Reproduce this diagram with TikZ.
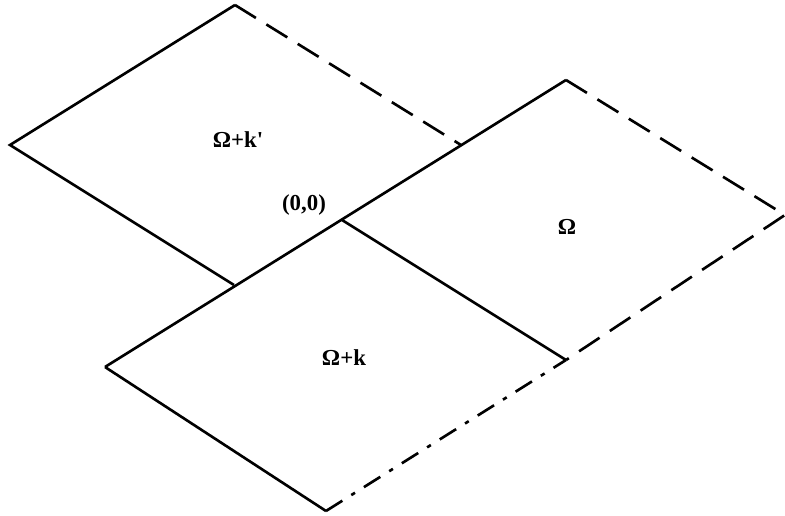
\documentclass[tikz,border=0pt]{standalone}
\usepackage{fontspec}
\setmainfont{Liberation Serif}
\usepackage{tikz}

\begin{document}
\begin{tikzpicture}[x=0.02cm,y=-0.02cm,line width=1.5pt,
    dashline/.style={dash pattern=on 14pt off 7pt},
    dashdotline/.style={dash pattern=on 11pt off 6pt on 2.5pt off 6pt},
    lbl/.style={font=\fontsize{13}{15}\selectfont\bfseries,inner sep=0pt}]
        \useasboundingbox (0,0) rectangle (785,516);
        \coordinate (O) at (342,220);
        \coordinate (kpL) at (10,145); \coordinate (kpT) at (235,5); \coordinate (kpR) at (461,145); \coordinate (kpB) at (234,285);
        \coordinate (oT) at (566,80); \coordinate (oR) at (785,215); \coordinate (oB) at (566,360);
        \coordinate (kL) at (105,367); \coordinate (kB) at (326,511);
        \draw[line join=miter] (kL) -- (oT);
        \draw (kpB) -- (kpL) -- (kpT);
        \draw[dashline] (kpT) -- (kpR);
        \draw (O) -- (oB);
        \draw[dashline] (oT) -- (oR) -- (oB);
        \draw (kL) -- (kB);
        \draw[dashdotline] (kB) -- (oB);
        \node[lbl] (kplabel) at (238,140) {Ω+k\textquotesingle};
        \node[lbl] (origin) at (304,205) {(0,0)};
        \node[lbl] (omega) at (567,227) {Ω};
        \node[lbl] (klabel) at (344,358) {Ω+k};
    \end{tikzpicture}
\end{document}
